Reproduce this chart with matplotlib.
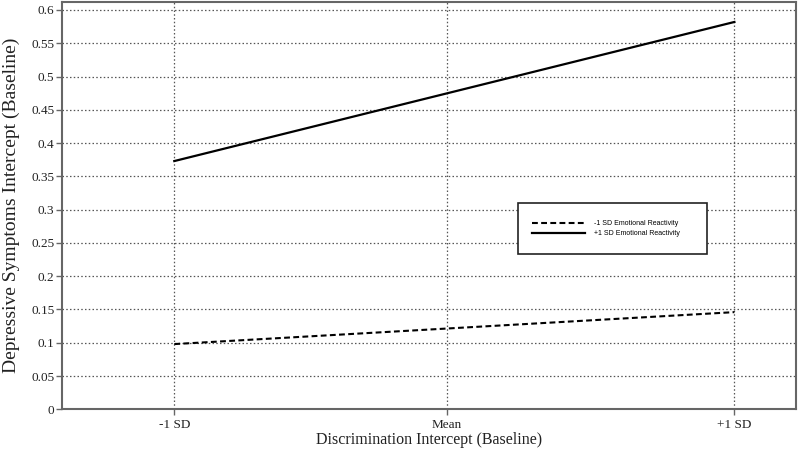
import matplotlib
matplotlib.use("Agg")
import matplotlib.pyplot as plt
from matplotlib.patches import Rectangle

# Data
x_labels = ["-1 SD", "Mean", "+1 SD"]
x_ticks = [-1.0, -0.027, 1.0]
x_ends = [-1.0, 1.0]
low_er = [0.098, 0.146]    # -1 SD Emotional Reactivity
high_er = [0.373, 0.582]   # +1 SD Emotional Reactivity
y_ticks = [0, 0.05, 0.1, 0.15, 0.2, 0.25, 0.3, 0.35, 0.4, 0.45, 0.5, 0.55, 0.6]
y_tick_labels = ["0", "0.05", "0.1", "0.15", "0.2", "0.25", "0.3", "0.35", "0.4", "0.45", "0.5", "0.55", "0.6"]

W, H = 800, 461
fig = plt.figure(figsize=(8, 4.61), dpi=100)
ax_h = 409.3 - 2
ax = fig.add_axes([62 / W, 1 - 409.3 / H, (796 - 62) / W, ax_h / H])

ax.set_xlim(-1.401, 1.220)
ax.set_ylim(0, 0.612)

ax.plot(x_ends, low_er, color="black", lw=1.5, ls=(0, (2.8, 1.6)), label="-1 SD Emotional Reactivity", zorder=3)
ax.plot(x_ends, high_er, color="black", lw=1.6, ls="-", label="+1 SD Emotional Reactivity", zorder=3)

ax.set_xticks(x_ticks)
ax.set_xticklabels(x_labels)
ax.set_yticks(y_ticks)
ax.set_yticklabels(y_tick_labels)

serif = ["Liberation Serif", "DejaVu Serif"]
for lab in ax.get_xticklabels() + ax.get_yticklabels():
    lab.set_family(serif)
    lab.set_fontsize(9.5)
    lab.set_color("#222222")

ax.grid(True, color="#555555", ls=(0, (1.2, 1.8)), lw=0.9)
ax.set_axisbelow(True)
for s in ax.spines.values():
    s.set_color("#666666")
    s.set_linewidth(1.5)
ax.tick_params(direction="out", length=4, width=1, color="#666666")
ax.tick_params(axis="x", pad=3)
ax.tick_params(axis="y", pad=1.5)

ax.set_xlabel("Discrimination Intercept (Baseline)", family=serif, fontsize=11.5, color="#222222")
ax.set_ylabel("Depressive Symptoms Intercept (Baseline)", family=serif, fontsize=14, color="#222222")
ax.xaxis.set_label_coords(0.5, (409.3 - 431.5) / ax_h)
ax.yaxis.set_label_coords((20 - 62) / 734, 0.5)

# legend box
ax.add_patch(Rectangle((517.7 / W, 1 - 254 / H), (706.7 - 517.7) / W, (254 - 202.7) / H,
                       transform=fig.transFigure, fill=True, facecolor="white",
                       edgecolor="#222222", lw=1.2, zorder=5, clip_on=False))
leg = ax.legend(loc="upper left", bbox_to_anchor=(529 / W, 1 - 216.5 / H), bbox_transform=fig.transFigure,
                frameon=False, prop={"family": ["Liberation Sans Narrow", "Liberation Sans"], "size": 5},
                handlelength=7.5, handletextpad=1.3, labelspacing=0.5, borderpad=0.0)
leg.set_zorder(6)

fig.savefig("out.png", dpi=100)
